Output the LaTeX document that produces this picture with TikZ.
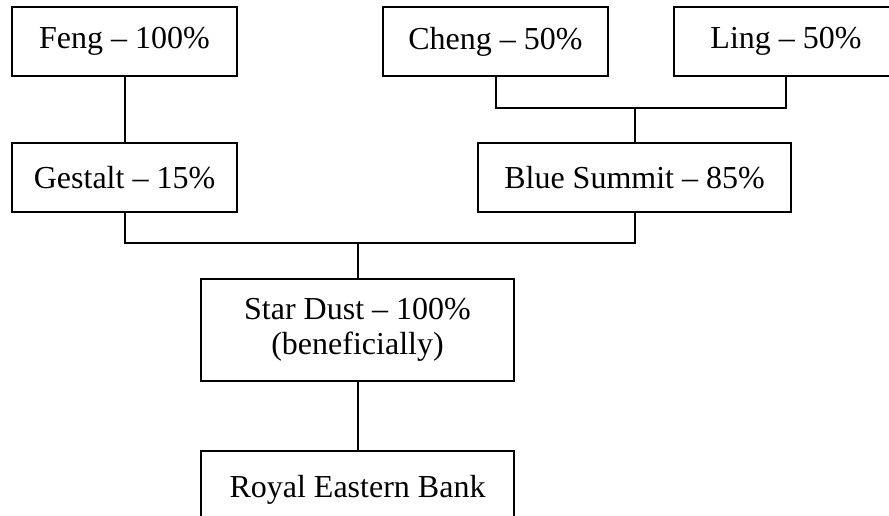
\documentclass[tikz,border=0pt]{standalone}
\usepackage{fontspec}
\setmainfont{Liberation Serif}
\begin{document}
\begin{tikzpicture}[x=0.5pt,y=-0.5pt,line width=1pt,
    holder/.style={draw,inner sep=0pt,minimum width=112.5pt,minimum height=34.5pt,
        font=\fontsize{16}{17.6}\selectfont,align=center},
    wideholder/.style={holder,minimum width=156.5pt}]
\useasboundingbox (0,0) rectangle (889,515);
\clip (0,0) rectangle (889,515);
\node[holder] (feng) at (124.5,41.5) {Feng -- 100\%};
\node[holder] (cheng) at (495.5,41.5) {Cheng -- 50\%};
\node[holder] (ling) at (786,41.5) {Ling -- 50\%};
\node[holder] (gestalt) at (124.5,177.5) {Gestalt -- 15\%};
\node[wideholder] (blue) at (634.5,177.5) {Blue Summit -- 85\%};
\node[wideholder,minimum height=51pt] (stardust) at (357.5,330) {Star Dust -- 100\%\\(beneficially)};
\node[wideholder,minimum height=39pt] (royal) at (357.5,490) {Royal Eastern Bank};
\coordinate (upper) at (634.5,108);
\coordinate (lower) at (357.5,243);
\draw (feng) -- (gestalt);
\draw (cheng.south) |- (upper) -| (ling.south);
\draw (upper) -- (blue.north);
\draw (gestalt.south) |- (lower) -| (blue.south);
\draw (lower) -- (stardust.north);
\draw (stardust) -- (royal);
\end{tikzpicture}
\end{document}
